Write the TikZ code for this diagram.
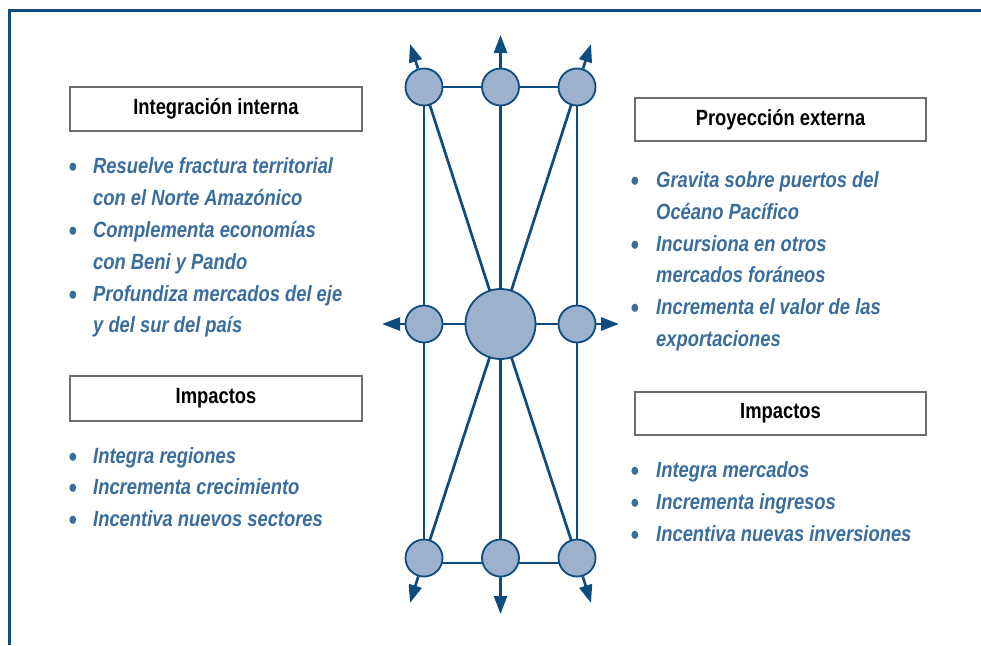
\documentclass[tikz,border=0pt]{standalone}
\usepackage{fontspec}
\setmainfont{Liberation Sans}[FakeStretch=0.835]
\usetikzlibrary{arrows.meta,calc,backgrounds}
\definecolor{dblue}{HTML}{0E4C7D}
\definecolor{cfill}{HTML}{9BB1CC}
\definecolor{tblue}{HTML}{3A6C9C}
\definecolor{bgray}{HTML}{6E6E6E}
\begin{document}
\begin{tikzpicture}[x=1pt,y=-1pt,
  sm/.style={circle,draw=dblue,fill=cfill,line width=1.8pt,minimum size=37pt,inner sep=0pt},
  big/.style={sm,minimum size=70pt},
  conn/.style={draw=dblue,line width=2.7pt},
  arr/.style={conn,-{Triangle[length=18pt,width=13pt]}},
  hbox/.style={draw=bgray,line width=2.4pt,fill=white,inner sep=0pt,font=\fontsize{22}{24}\selectfont\bfseries},
  bul/.style={text=tblue,font=\fontsize{28}{24}\selectfont\bfseries,anchor=base,inner sep=0pt,yshift=-3pt},
  itm/.style={text=tblue,font=\fontsize{22}{24}\selectfont\bfseries\itshape,anchor=base west,inner sep=0pt},
]
\useasboundingbox (0,0) rectangle (981,645);
\draw[dblue,line width=3pt] (9,645) -- (9,10) -- (981,10);

% circles
\node[sm] (tl) at (424,87) {};
\node[sm] (tm) at (500.5,87) {};
\node[sm] (tr) at (577,87) {};
\node[sm] (ml) at (424,324) {};
\node[big] (c) at (500.5,324) {};
\node[sm] (mr) at (577,324) {};
\node[sm] (bl) at (424,558) {};
\node[sm] (bm) at (500.5,558) {};
\node[sm] (br) at (577,558) {};

\begin{scope}[on background layer]
\draw[conn] (tl.center) -- (tr.center);
\draw[conn] ([yshift=-5pt]bl.center) -- ([yshift=-5pt]br.center);
\draw[conn] (ml.center) -- (mr.center);
\draw[conn] (tl.center) -- (bl.center);
\draw[conn] (tm.center) -- (bm.center);
\draw[conn] (tr.center) -- (br.center);
\draw[conn] (tl.center) -- (c.center);
\draw[conn] (tr.center) -- (c.center);
\draw[conn] (bl.center) -- (c.center);
\draw[conn] (br.center) -- (c.center);
\end{scope}

% arrow tips
\coordinate (ttl) at (410,44);
\coordinate (ttm) at (500.5,35);
\coordinate (ttr) at (591,44);
\coordinate (tml) at (382,324);
\coordinate (tmr) at (619,324);
\coordinate (tbl) at (410,603);
\coordinate (tbm) at (500.5,614);
\coordinate (tbr) at (591,603);
\draw[arr] (tl) -- (ttl);
\draw[arr] (tm) -- (ttm);
\draw[arr] (tr) -- (ttr);
\draw[arr] (ml) -- (tml);
\draw[arr] (mr) -- (tmr);
\draw[arr] (bl) -- (tbl);
\draw[arr] (bm) -- (tbm);
\draw[arr] (br) -- (tbr);

% header boxes
\node[hbox,minimum width=292pt,minimum height=44pt] (h1) at (216,109) {Integración interna};
\node[hbox,minimum width=291pt,minimum height=43pt] (h2) at (780.5,119.5) {Proyección externa};
\node[hbox,minimum width=292pt,minimum height=45pt] (h3) at (216,398.5) {Impactos};
\node[hbox,minimum width=291pt,minimum height=43pt] (h4) at (780.5,413.5) {Impactos};

% left list
\node[bul] (b1) at (73,173) {•};
\node[itm] (l1a) at (93,173) {Resuelve fractura territorial};
\node[itm] (l1b) at (93,205) {con el Norte Amazónico};
\node[bul] (b2) at (73,237) {•};
\node[itm] (l2a) at (93,237) {Complementa economías};
\node[itm] (l2b) at (93,269) {con Beni y Pando};
\node[bul] (b3) at (73,301) {•};
\node[itm] (l3a) at (93,301) {Profundiza mercados del eje};
\node[itm] (l3b) at (93,332) {y del sur del país};

% right list
\node[bul] (b4) at (635,187) {•};
\node[itm] (r1a) at (656,187) {Gravita sobre puertos del};
\node[itm] (r1b) at (656,219) {Océano Pacífico};
\node[bul] (b5) at (635,251) {•};
\node[itm] (r2a) at (656,251) {Incursiona en otros};
\node[itm] (r2b) at (656,282) {mercados foráneos};
\node[bul] (b6) at (635,314) {•};
\node[itm] (r3a) at (656,314) {Incrementa el valor de las};
\node[itm] (r3b) at (656,346) {exportaciones};

% left impacts
\node[bul] (b7) at (73,463) {•};
\node[itm] (li1) at (93,463) {Integra regiones};
\node[bul] (b8) at (73,494) {•};
\node[itm] (li2) at (93,494) {Incrementa crecimiento};
\node[bul] (b9) at (73,526) {•};
\node[itm] (li3) at (93,526) {Incentiva nuevos sectores};

% right impacts
\node[bul] (b10) at (635,477) {•};
\node[itm] (ri1) at (656,477) {Integra mercados};
\node[bul] (b11) at (635,509) {•};
\node[itm] (ri2) at (656,509) {Incrementa ingresos};
\node[bul] (b12) at (635,541) {•};
\node[itm] (ri3) at (656,541) {Incentiva nuevas inversiones};
\end{tikzpicture}
\end{document}
